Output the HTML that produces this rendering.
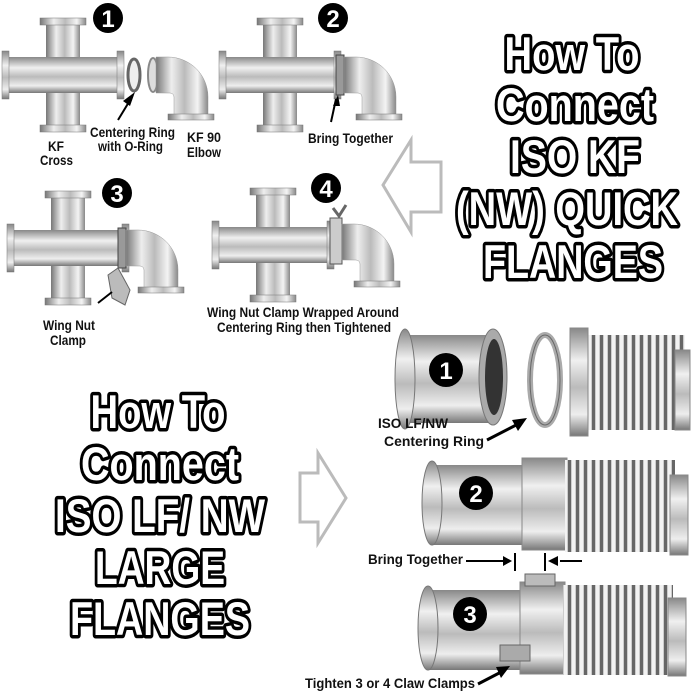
<!DOCTYPE html>
<html><head><meta charset="utf-8"><style>
html,body{margin:0;padding:0;background:#fff;}
svg{display:block;}
.big{font-family:"Liberation Sans",sans-serif;font-weight:bold;font-size:47px;text-anchor:middle;}
.lb{font-family:"Liberation Sans",sans-serif;font-weight:bold;font-size:14px;fill:#111;}
.num{font-family:"Liberation Sans",sans-serif;font-weight:bold;font-size:24px;fill:#fff;text-anchor:middle;}
</style></head><body>
<svg width="700" height="700" viewBox="0 0 700 700" xmlns="http://www.w3.org/2000/svg">
<defs>
<linearGradient id="v" x1="0" y1="0" x2="1" y2="0"><stop offset="0" stop-color="#777"/><stop offset=".3" stop-color="#eee"/><stop offset=".55" stop-color="#bbb"/><stop offset=".8" stop-color="#f4f4f4"/><stop offset="1" stop-color="#888"/></linearGradient>
<linearGradient id="h" x1="0" y1="0" x2="0" y2="1"><stop offset="0" stop-color="#888"/><stop offset=".3" stop-color="#f0f0f0"/><stop offset=".55" stop-color="#bbb"/><stop offset=".8" stop-color="#eee"/><stop offset="1" stop-color="#777"/></linearGradient>
<pattern id="bel" width="8" height="10" patternUnits="userSpaceOnUse"><rect width="8" height="10" fill="#ccc"/><rect width="3" height="10" fill="#666"/><rect x="4" width="3" height="10" fill="#f2f2f2"/></pattern>
<g id="cross">
<rect x="-17" y="-52" width="34" height="104" fill="url(#v)"/>
<rect x="-56" y="-18" width="112" height="36" fill="url(#h)"/>
<rect x="-23" y="-57" width="46" height="7" fill="url(#v)" stroke="#777" stroke-width=".5"/>
<rect x="-23" y="50" width="46" height="7" fill="url(#v)" stroke="#777" stroke-width=".5"/>
<rect x="-61" y="-24" width="7" height="48" fill="url(#h)" stroke="#777" stroke-width=".5"/>
<rect x="54" y="-24" width="7" height="48" fill="url(#h)" stroke="#777" stroke-width=".5"/>
</g>
<g id="elbow">
<path d="M0,-18 L12,-18 A40,40 0 0 1 52,22 L52,40 L18,40 L18,22 A4,4 0 0 0 14,18 L0,18 Z" fill="url(#v)" stroke="#999" stroke-width=".5"/>
<rect x="12" y="39" width="46" height="6" fill="url(#v)" stroke="#777" stroke-width=".5"/>
</g>
<g id="titles">
<text class="big" x="572" y="70" textLength="135" lengthAdjust="spacingAndGlyphs">How To</text>
<text class="big" x="575" y="121" textLength="158" lengthAdjust="spacingAndGlyphs">Connect</text>
<text class="big" x="575" y="173" textLength="130" lengthAdjust="spacingAndGlyphs">ISO KF</text>
<text class="big" x="567" y="225" textLength="222" lengthAdjust="spacingAndGlyphs">(NW) QUICK</text>
<text class="big" x="573" y="278" textLength="180" lengthAdjust="spacingAndGlyphs">FLANGES</text>
<text class="big" x="158" y="428" textLength="135" lengthAdjust="spacingAndGlyphs">How To</text>
<text class="big" x="160" y="480" textLength="158" lengthAdjust="spacingAndGlyphs">Connect</text>
<text class="big" x="160" y="532" textLength="210" lengthAdjust="spacingAndGlyphs">ISO LF/ NW</text>
<text class="big" x="160" y="584" textLength="130" lengthAdjust="spacingAndGlyphs">LARGE</text>
<text class="big" x="160" y="635" textLength="180" lengthAdjust="spacingAndGlyphs">FLANGES</text>
</g>
</defs>

<use href="#cross" x="63" y="75"/>
<ellipse cx="134" cy="75" rx="6" ry="16" fill="#eee" stroke="#666" stroke-width="3"/>
<ellipse cx="153" cy="75" rx="5" ry="17" fill="#ddd" stroke="#888" stroke-width="2"/>
<use href="#elbow" x="156" y="75"/>
<circle cx="108" cy="18" r="15" fill="#000"/><text class="num" x="108" y="27">1</text>
<path d="M132,97 L118,120" stroke="#000" stroke-width="2"/><path d="M135,92 L130,106 L123,101Z" fill="#000"/>
<text class="lb" x="90" y="137" textLength="85" lengthAdjust="spacingAndGlyphs">Centering Ring</text><text class="lb" x="98" y="151" textLength="65" lengthAdjust="spacingAndGlyphs">with O-Ring</text>
<text class="lb" x="48" y="151" textLength="16" lengthAdjust="spacingAndGlyphs">KF</text><text class="lb" x="40" y="165" textLength="33" lengthAdjust="spacingAndGlyphs">Cross</text>
<text class="lb" x="187" y="142" textLength="34" lengthAdjust="spacingAndGlyphs">KF 90</text><text class="lb" x="187" y="157" textLength="34" lengthAdjust="spacingAndGlyphs">Elbow</text>

<use href="#cross" x="280" y="75"/>
<rect x="336" y="55" width="8" height="40" fill="#999" stroke="#444"/>
<use href="#elbow" x="344" y="75"/>
<circle cx="333" cy="18" r="15" fill="#000"/><text class="num" x="333" y="27">2</text>
<path d="M336,99 L331,122" stroke="#000" stroke-width="2"/><path d="M338,95 L333,106 L340,106Z" fill="#000"/>
<text class="lb" x="308" y="143" textLength="85" lengthAdjust="spacingAndGlyphs">Bring Together</text>

<use href="#cross" x="68" y="248"/>
<rect x="118" y="228" width="8" height="40" fill="#999" stroke="#444"/>
<use href="#elbow" x="126" y="248"/>
<circle cx="117" cy="193" r="15" fill="#000"/><text class="num" x="117" y="202">3</text>
<path d="M108,275 L118,268 L130,290 L125,305 L112,298Z" fill="#bbb" stroke="#666"/>
<path d="M98,303 L112,292" stroke="#000" stroke-width="2"/>
<text class="lb" x="43" y="330" textLength="52" lengthAdjust="spacingAndGlyphs">Wing Nut</text><text class="lb" x="50" y="345" textLength="36" lengthAdjust="spacingAndGlyphs">Clamp</text>

<use href="#cross" x="273" y="245"/>
<rect x="330" y="218" width="12" height="46" fill="#ccc" stroke="#555"/>
<path d="M333,208 L339,216 L346,205" fill="none" stroke="#666" stroke-width="3"/>
<use href="#elbow" x="342" y="242"/>
<circle cx="326" cy="188" r="15" fill="#000"/><text class="num" x="326" y="197">4</text>
<text class="lb" x="207" y="317" textLength="192" lengthAdjust="spacingAndGlyphs">Wing Nut Clamp Wrapped Around</text>
<text class="lb" x="217" y="332" textLength="174" lengthAdjust="spacingAndGlyphs">Centering Ring then Tightened</text>

<path d="M383,185 L411,140 L411,162 L441,162 L441,212 L411,212 L411,232 Z" fill="#fff" stroke="#bbb" stroke-width="3"/>

<g fill="#000" stroke="#000" stroke-width="7" stroke-linejoin="round"><use href="#titles"/></g>
<g fill="#fff" stroke="none"><use href="#titles"/></g>

<path d="M346,498 L318,453 L318,473 L300,473 L300,522 L318,522 L318,543 Z" fill="#fff" stroke="#bbb" stroke-width="3"/>

<rect x="405" y="335" width="90" height="88" fill="url(#h)"/>
<ellipse cx="405" cy="379" rx="10" ry="50" fill="url(#h)" stroke="#777"/>
<ellipse cx="493" cy="377" rx="14" ry="48" fill="#aaa" stroke="#777"/>
<ellipse cx="494" cy="377" rx="9" ry="38" fill="#333"/>
<ellipse cx="545" cy="380" rx="15" ry="45" fill="none" stroke="#aaa" stroke-width="6"/>
<ellipse cx="545" cy="380" rx="15" ry="45" fill="none" stroke="#666" stroke-width="1"/>
<rect x="575" y="335" width="110" height="95" fill="url(#bel)"/>
<rect x="570" y="328" width="18" height="108" fill="url(#h)" stroke="#888"/>
<rect x="675" y="350" width="15" height="80" fill="url(#h)" stroke="#888"/>
<circle cx="446" cy="370" r="17" fill="#000"/><text class="num" x="446" y="379">1</text>
<text class="lb" x="378" y="428" textLength="70" lengthAdjust="spacingAndGlyphs">ISO LF/NW</text><text class="lb" x="384" y="446" textLength="100" lengthAdjust="spacingAndGlyphs">Centering Ring</text>
<path d="M487,440 L522,422" stroke="#000" stroke-width="3"/><path d="M527,418 L512,420 L518,431Z" fill="#000"/>

<rect x="432" y="465" width="128" height="80" fill="url(#h)"/>
<ellipse cx="432" cy="503" rx="10" ry="42" fill="url(#h)" stroke="#777"/>
<rect x="522" y="458" width="45" height="92" fill="url(#h)" stroke="#888"/>
<rect x="565" y="460" width="110" height="92" fill="url(#bel)"/>
<rect x="670" y="475" width="18" height="80" fill="url(#h)" stroke="#888"/>
<circle cx="476" cy="493" r="17" fill="#000"/><text class="num" x="476" y="502">2</text>
<text class="lb" x="368" y="564" textLength="95" lengthAdjust="spacingAndGlyphs">Bring Together</text>
<path d="M466,561 L505,561" stroke="#000" stroke-width="2"/><path d="M512,561 L503,556 L503,566Z" fill="#000"/>
<path d="M515,553 L515,571 M545,553 L545,571" stroke="#000" stroke-width="2"/>
<path d="M560,561 L582,561" stroke="#000" stroke-width="2"/><path d="M548,561 L558,556 L558,566Z" fill="#000"/>

<rect x="428" y="590" width="130" height="80" fill="url(#h)"/>
<ellipse cx="428" cy="628" rx="10" ry="42" fill="url(#h)" stroke="#777"/>
<rect x="520" y="582" width="45" height="92" fill="url(#h)" stroke="#888"/>
<rect x="563" y="585" width="110" height="90" fill="url(#bel)"/>
<rect x="668" y="598" width="18" height="78" fill="url(#h)" stroke="#888"/>
<rect x="525" y="574" width="30" height="12" fill="#bbb" stroke="#666"/>
<rect x="500" y="645" width="30" height="16" fill="#aaa" stroke="#666"/>
<circle cx="470" cy="614" r="17" fill="#000"/><text class="num" x="470" y="623">3</text>
<text class="lb" x="305" y="688" textLength="170" lengthAdjust="spacingAndGlyphs">Tighten 3 or 4 Claw Clamps</text>
<path d="M478,684 L505,670" stroke="#000" stroke-width="3"/><path d="M510,666 L496,667 L501,678Z" fill="#000"/>
</svg>
</body></html>
